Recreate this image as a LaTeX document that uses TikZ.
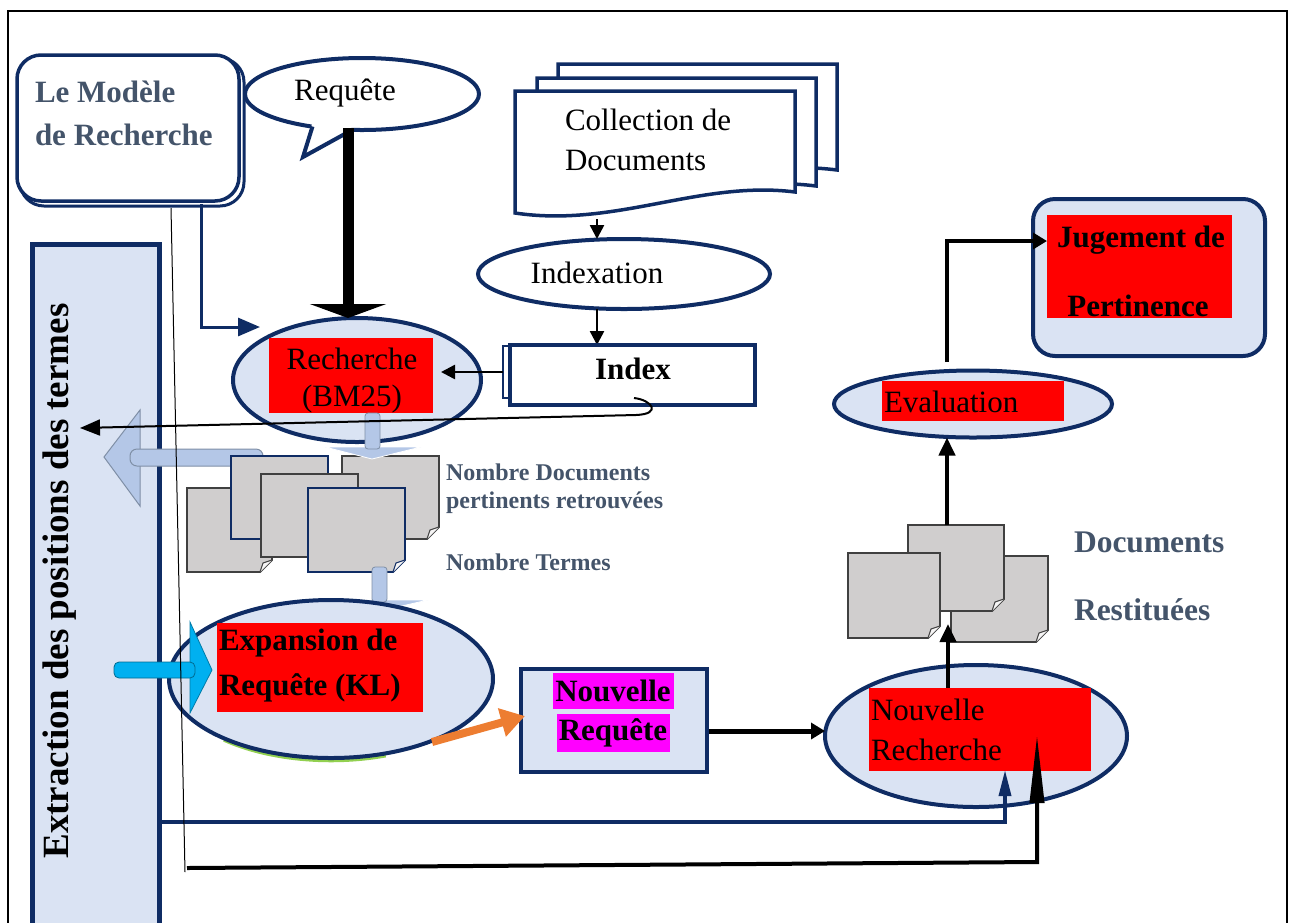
\documentclass[tikz,border=0pt]{standalone}
\usepackage{fontspec}
\setmainfont{Liberation Serif}
\usetikzlibrary{shapes.geometric,arrows.meta}
\definecolor{navy}{HTML}{0F2C64}
\definecolor{lightfill}{HTML}{DAE3F3}
\definecolor{grayblue}{HTML}{44546A}
\definecolor{docgray}{HTML}{D0CECE}
\definecolor{docedge}{HTML}{404040}
\definecolor{arrowblue}{HTML}{B4C7E7}
\definecolor{arrowedge}{HTML}{7F8FA6}
\definecolor{cyanarrow}{HTML}{00B0F0}
\definecolor{orangearrow}{HTML}{ED7D31}
\definecolor{redbg}{HTML}{FF0000}
\definecolor{magentabg}{HTML}{FF00FF}
\definecolor{shadowgreen}{HTML}{92D050}
\tikzset{
  every node/.style={inner sep=0pt, outer sep=0pt},
  txt/.style={font=\fontsize{31}{40}\selectfont},
  btxt/.style={font=\bfseries\fontsize{31}{40}\selectfont},
  gtxt/.style={text=grayblue, font=\bfseries\fontsize{24}{30}\selectfont, anchor=west},
  oval/.style={ellipse, draw=navy, line width=4, fill=lightfill},
  redbox/.style={fill=redbg, anchor=north west},
  magbox/.style={fill=magentabg, anchor=north west},
  conn/.style={draw=black, line width=2.5, -{Triangle[width=14pt,length=14pt]}},
  bigconn/.style={draw=black, line width=4, -{Triangle[width=16pt,length=18pt]}},
  paperfill/.style={fill=docgray, line width=1.8},
}
\newcommand\paperdoc[5]{%
  \draw[paperfill, draw=#5] (#1,#2) -- (#3,#2) -- (#3,{#4-12}) -- ({#3-12},#4) -- (#1,#4) -- cycle;
  \draw[fill=white!80!docgray, draw=#5, line width=1] ({#3-12},#4) -- ({#3-9},{#4-9}) -- (#3,{#4-12});
}
\newcommand\colldoc[5]{%
  \draw[fill=white, draw=navy, line width=3.5, line join=miter] (#1,#2) -- (#3,#2) -- (#3,#4)
    .. controls ({#3-95},{#4-12}) and ({#1+100},{#5+15}) .. (#1,#5) -- cycle;
}
\begin{document}
\begin{tikzpicture}[x=1pt,y=-1pt]
\useasboundingbox (0,0) rectangle (1289,922);
\clip (0,0) rectangle (1289,922);
\draw[line width=2] (8,11) rectangle (1287,940);

% ---- left vertical box
\node[draw=navy, line width=5, fill=lightfill, minimum width=127, minimum height=700, anchor=north west] (extr) at (32,244) {};
\node[rotate=90, font=\bfseries\fontsize{37}{40}\selectfont] (extrtxt) at (60,581) {Extraction des positions des termes};

% ---- Modele box
\node[draw=navy, line width=3, rounded corners=24, minimum width=224, minimum height=148, anchor=north west] (modshadow) at (20,58) {};
\node[draw=navy, line width=3.5, fill=white, rounded corners=24, minimum width=222, minimum height=146, anchor=north west] (modele) at (17,55) {};
\node[anchor=west, align=left, text=grayblue, font=\bfseries\fontsize{31}{43}\selectfont] (modtxt) at (35,113) {Le Modèle\\de Recherche};

% ---- Requete callout
\node[ellipse, draw=navy, line width=4, fill=white, minimum width=234, minimum height=72] (req) at (362,94) {};
\fill[white] (314,119) rectangle (350,136);
\fill[white] (312,124) -- (303,157) -- (352,127) -- cycle;
\draw[navy, line width=4, line join=miter] (312.5,126.5) -- (303,157) -- (352,130);
\node[txt] (reqtxt) at (345,93) {Requête};

% ---- Collection de Documents
\colldoc{558}{64}{837}{170}{180}
\colldoc{537}{78}{816}{186}{196}
\colldoc{515}{91}{795}{192}{213}
\node[txt, anchor=west, align=left] (colltxt) at (565,140) {Collection de\\Documents};

% ---- Indexation
\node[oval, fill=white, minimum width=292, minimum height=70] (indexa) at (624,274) {};
\node[txt] (indexatxt) at (597,273) {Indexation};
\coordinate (collout) at (597,219);
\draw[conn] (collout) -- (collout |- indexa.north);
\coordinate (idxin) at (597,309);
\draw[conn] (idxin) -- (597,345);

% ---- Index
\node[draw=navy, line width=2, fill=white, minimum width=8, minimum height=52, anchor=north east] (idxstrip) at (511,346) {};
\node[draw=navy, line width=4, fill=white, minimum width=245, minimum height=60] (index) at (632.5,375) {};
\node[btxt] (idxtxt) at (633,369) {Index};

% ---- Recherche
\node[oval, minimum width=248, minimum height=124] (rech) at (357,380) {};
\node[redbox, minimum width=164, minimum height=75] (rechred) at (269,338) {};
\node[txt] (rechtxt1) at (352,359) {Recherche};
\node[txt] (rechtxt2) at (352,399) {(BM25)};
\coordinate (rechidx) at (441,372);
\draw[conn] (idxstrip.west) -- (rechidx);

% thick Requete arrow
\coordinate (reqbot) at (348,128);
\draw[line width=11, -{Triangle[width=76pt,length=14pt]}] (reqbot) -- (reqbot |- rech.north);

% Modele arrow
\coordinate (modout) at (201,204);
\coordinate (rechin) at (260,327);
\draw[navy, line width=3, -{Triangle[width=18pt,length=22pt]}] (modout) |- (rechin);

% ---- light blue left arrow
\draw[fill=arrowblue, draw=arrowedge, line width=1] (104,457) -- (140,410) -- (140,506) -- cycle;
\draw[fill=arrowblue, draw=arrowedge, line width=1, rounded corners=7] (130,449) rectangle (263,466);

% ---- middle documents
\paperdoc{187}{488}{272}{572}{docedge}
\paperdoc{231}{456}{328}{539}{navy}
\paperdoc{342}{456}{439}{539}{docedge}
\paperdoc{261}{474}{358}{557}{docedge}
\paperdoc{308}{488}{405}{572}{navy}

% down arrows
\draw[fill=arrowblue, draw=white, line width=0.8] (325,447) -- (421,447) -- (372,459) -- cycle;
\draw[fill=arrowblue, draw=arrowedge, line width=0.8, rounded corners=3] (365,413) rectangle (380,449);
\draw[fill=arrowblue, draw=white, line width=0.8] (339,600) -- (428,600) -- (380,611) -- cycle;
\draw[fill=arrowblue, draw=arrowedge, line width=0.8, rounded corners=3] (372,567) rectangle (387,602);

% curved line from Index
\coordinate (extrarrow) at (80,428);
\draw[line width=2, -{Triangle[width=16pt,length=20pt]}] (634,398) .. controls (652,400) and (662,414) .. (636,415) -- (extrarrow);

% labels
\node[gtxt] (nbdoc1) at (446,472) {Nombre Documents};
\node[gtxt] (nbdoc2) at (446,503) {pertinents retrouvées};
\node[gtxt] (nbterm) at (446,562) {Nombre Termes};

% ---- Expansion
\draw[shadowgreen, line width=3.5] (331,680.5) ++(228:160pt and 80pt) arc[start angle=228, end angle=290, x radius=160pt, y radius=80pt];
\node[oval, minimum width=324, minimum height=158] (expan) at (331,679) {};
\node[redbox, minimum width=206, minimum height=89] (expred) at (217,623) {};
\node[btxt, anchor=west] (exptxt1) at (219,643) {Expansion de};
\node[btxt, anchor=west] (exptxt2) at (219,688) {Requête (KL)};

% cyan arrow
\draw[fill=cyanarrow, draw=cyanarrow!70!black, line width=0.8] (190,622) -- (212,670) -- (190,713) -- cycle;
\draw[fill=cyanarrow, draw=cyanarrow!60!black, line width=0.8, rounded corners=5] (114,662) rectangle (195,678);

% ---- Nouvelle Requete
\node[draw=navy, line width=4, fill=lightfill, minimum width=186, minimum height=103, anchor=north west] (nreq) at (521,669) {};
\node[magbox, minimum width=121, minimum height=36] (nreqm1) at (553,673) {};
\node[magbox, minimum width=113, minimum height=38] (nreqm2) at (557,714) {};
\node[btxt] (nreqtxt1) at (613,691) {Nouvelle};
\node[btxt] (nreqtxt2) at (613,733) {Requête};

% orange arrow
\draw[orangearrow, line width=8, -{Triangle[width=28pt,length=24pt]}] (432,742) -- (525,716);

% ---- Nouvelle Recherche
\node[oval, minimum width=302, minimum height=142] (nrech) at (976,736) {};
\node[redbox, minimum width=222, minimum height=83] (nrechred) at (869,688) {};
\node[txt, anchor=west] (nrechtxt1) at (871,710) {Nouvelle};
\node[txt, anchor=west] (nrechtxt2) at (871,750) {Recherche};

\coordinate (nreqout) at (709,731);
\draw[line width=5, -{Triangle[width=16pt,length=14pt]}] (nreqout) -- (nreqout -| nrech.west);

% ---- right documents
\paperdoc{951}{556}{1048}{642}{docedge}
\paperdoc{908}{525}{1004}{611}{docedge}
\paperdoc{848}{553}{940}{638}{docedge}
\node[anchor=west, text=grayblue, font=\bfseries\fontsize{31.5}{40}\selectfont] (docres1) at (1074,542) {Documents};
\node[anchor=west, text=grayblue, font=\bfseries\fontsize{31.5}{40}\selectfont] (docres2) at (1074,610) {Restituées};

\coordinate (nrechtop) at (948,688);
\draw[bigconn] (nrechtop) -- (948,624);

% ---- Evaluation
\node[oval, minimum width=278, minimum height=67] (eval) at (973,404) {};
\node[redbox, minimum width=182, minimum height=40] (evalred) at (882,381) {};
\node[txt, anchor=west] (evaltxt) at (884,402) {Evaluation};
\coordinate (docstop) at (947,525);
\draw[bigconn] (docstop) -- (docstop |- eval.south);

% ---- Jugement
\node[draw=navy, line width=4, fill=lightfill, rounded corners=22, minimum width=232, minimum height=157, anchor=north west] (juge) at (1033,199) {};
\node[redbox, minimum width=185, minimum height=103] (jugered) at (1047,215) {};
\node[btxt] (jugetxt1) at (1141,240) {Jugement de};
\node[btxt] (jugetxt2) at (1138,306) {Pertinence};
\coordinate (evaltop) at (947,362);
\coordinate (jugein) at (1047,241);
\draw[line width=4, -{Triangle[width=16pt,length=14pt]}] (evaltop) |- (jugein);

% ---- bottom feedback lines
\coordinate (extrout) at (161,822);
\coordinate (nrechin1) at (1005,770);
\draw[navy, line width=3.5, -{Triangle[width=12pt,length=26pt]}] (extrout) -| (nrechin1);
\coordinate (botstart) at (187,868);
\coordinate (nrechin2) at (1037,735);
\draw[line width=4, -{Triangle[width=14pt,length=68pt]}] (botstart) -- (1037,862) -- (nrechin2);

% thin slanted line
\draw[line width=1] (171,208) -- (185,872);
\end{tikzpicture}
\end{document}
